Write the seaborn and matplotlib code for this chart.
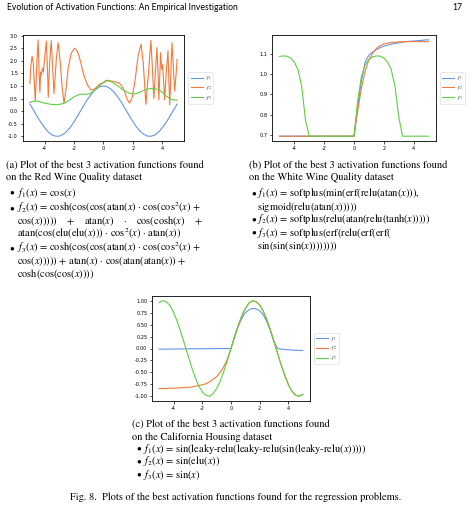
import matplotlib
matplotlib.use("Agg")
import matplotlib.pyplot as plt
import pandas as pd
import seaborn as sns

# ---------------- data ----------------
x_grid = [-5.0, -4.75, -4.5, -4.25, -4.0, -3.75, -3.5, -3.25, -3.0, -2.75, -2.5,
          -2.25, -2.0, -1.75, -1.5, -1.25, -1.0, -0.75, -0.5, -0.25, 0.0,
          0.25, 0.5, 0.75, 1.0, 1.25, 1.5, 1.75, 2.0, 2.25, 2.5,
          2.75, 3.0, 3.25, 3.5, 3.75, 4.0, 4.25, 4.5, 4.75, 5.0]

# (a) Red Wine Quality
a_f1 = [0.28, 0.04, -0.21, -0.45, -0.65, -0.82, -0.94, -0.99, -0.99, -0.92, -0.80,
        -0.63, -0.42, -0.18, 0.07, 0.32, 0.54, 0.73, 0.88, 0.97, 1.00,
        0.97, 0.88, 0.73, 0.54, 0.32, 0.07, -0.18, -0.42, -0.63, -0.80,
        -0.92, -0.99, -0.99, -0.94, -0.82, -0.65, -0.45, -0.21, 0.04, 0.28]
a_f2_x = [-5.0, -4.93, -4.85, -4.77, -4.63, -4.52, -4.44, -4.37, -4.32, -4.27, -4.22,
          -4.15, -4.08, -3.98, -3.88, -3.80, -3.75, -3.65, -3.55, -3.45, -3.36,
          -3.20, -3.08, -2.95, -2.80, -2.68, -2.55, -2.40, -2.20, -1.95, -1.75,
          -1.55, -1.35, -1.10, -0.85, -0.60, -0.30, 0.0, 0.2, 0.5, 0.8,
          1.05, 1.25, 1.45, 1.62, 1.77, 1.95, 2.15, 2.35, 2.55, 2.70,
          2.88, 3.05, 3.22, 3.33, 3.42, 3.52, 3.63, 3.70, 3.76, 3.82,
          3.88, 3.95, 4.02, 4.08, 4.15, 4.27, 4.38, 4.44, 4.50, 4.58,
          4.65, 4.73, 4.83, 4.92, 5.0]
a_f2 = [1.10, 1.80, 2.18, 1.90, 0.40, 2.00, 2.83, 1.50, 0.75, 1.55, 1.45,
        1.70, 1.55, 2.20, 2.78, 1.60, 0.55, 2.00, 2.80, 1.70, 0.70,
        2.10, 2.72, 2.00, 0.90, 0.32, 0.85, 1.70, 2.30, 2.50, 2.35,
        1.95, 1.45, 1.05, 0.84, 0.88, 1.05, 1.15, 1.23, 1.20, 1.16,
        1.12, 1.00, 0.75, 0.45, 0.32, 0.55, 1.25, 2.20, 2.65, 1.90,
        0.27, 1.50, 2.80, 1.60, 0.50, 1.50, 2.52, 1.50, 0.45, 1.40,
        2.32, 1.65, 1.85, 1.20, 0.45, 1.60, 2.40, 1.20, 0.25, 1.60,
        2.72, 1.90, 0.80, 1.40, 2.05]
a_f3 = [0.35, 0.40, 0.40, 0.36, 0.32, 0.29, 0.27, 0.26, 0.27, 0.30, 0.37,
        0.47, 0.57, 0.64, 0.68, 0.67, 0.68, 0.76, 0.88, 1.02, 1.13,
        1.21, 1.18, 1.09, 0.99, 0.88, 0.79, 0.72, 0.69, 0.70, 0.76,
        0.83, 0.88, 0.90, 0.89, 0.85, 0.75, 0.60, 0.50, 0.45, 0.44]

# (b) White Wine Quality
b_f1 = [0.693] * 21 + [0.838, 0.967, 1.061, 1.094, 1.110, 1.122, 1.131, 1.138, 1.144, 1.148,
                       1.152, 1.155, 1.158, 1.161, 1.163, 1.164, 1.166, 1.167, 1.169, 1.170]
b_f2 = [0.693] * 21 + [0.820, 0.933, 1.016, 1.071, 1.105, 1.127, 1.141, 1.149, 1.154, 1.157,
                       1.158, 1.160, 1.160, 1.161, 1.161, 1.161, 1.161, 1.161, 1.161, 1.161]
b_f3 = [1.088, 1.090, 1.089, 1.080, 1.060, 1.020, 0.935, 0.770,
        0.693, 0.693, 0.693, 0.693, 0.693, 0.693, 0.693, 0.693, 0.693, 0.693, 0.693, 0.693, 0.693,
        0.870, 0.990, 1.047, 1.073, 1.086, 1.090, 1.089, 1.080, 1.060, 1.022, 0.940, 0.790,
        0.693, 0.693, 0.693, 0.693, 0.693, 0.693, 0.693, 0.693]

# (c) California Housing
c_f1 = [-0.015, -0.014, -0.013, -0.012, -0.011, -0.010, -0.009, -0.008, -0.007, -0.006,
        -0.005, -0.005, -0.004, -0.004, -0.003, -0.003, -0.002, -0.002, -0.001, -0.001, 0.0,
        0.24, 0.46, 0.63, 0.75, 0.81, 0.84, 0.83, 0.79, 0.70, 0.56, 0.37, 0.14,
        -0.005, -0.012, -0.020, -0.027, -0.033, -0.037, -0.040, -0.042]
c_f2 = [-0.84, -0.84, -0.84, -0.83, -0.83, -0.83, -0.82, -0.82, -0.81, -0.81,
        -0.79, -0.78, -0.76, -0.74, -0.70, -0.65, -0.59, -0.50, -0.38, -0.22, 0.0,
        0.25, 0.48, 0.68, 0.84, 0.95, 1.00, 0.98, 0.91, 0.78, 0.60, 0.38, 0.14,
        -0.11, -0.35, -0.57, -0.76, -0.90, -0.98, -1.00, -0.96]
c_f3 = [0.96, 1.00, 0.98, 0.90, 0.76, 0.57, 0.35, 0.11, -0.14, -0.38, -0.60,
        -0.78, -0.91, -0.98, -1.00, -0.95, -0.84, -0.68, -0.48, -0.25, 0.0,
        0.25, 0.48, 0.68, 0.84, 0.95, 1.00, 0.98, 0.91, 0.78, 0.60,
        0.38, 0.14, -0.11, -0.35, -0.57, -0.76, -0.90, -0.98, -1.00, -0.96]

series_labels = ["$f_1$", "$f_2$", "$f_3$"]
colors = ["#6495ed", "#f4793b", "#5ecf43"]

# ---------------- text ----------------
header_left = "Evolution of Activation Functions: An Empirical Investigation"
header_right = "17"
cap_a = ["(a) Plot of the best 3 activation functions found",
         "on the Red Wine Quality dataset"]
cap_b = ["(b) Plot of the best 3 activation functions found",
         "on the White Wine Quality dataset"]
cap_c = ["(c) Plot of the best 3 activation functions found",
         "on the California Housing dataset"]
items_a = [["$f_1$($x$) = cos($x$)"],
           ["$f_2$($x$) = cosh(cos(cos(atan($x$) \u00b7 cos(cos$^2$($x$) +",
            "cos($x$)))))    +    atan($x$)    \u00b7    cos(cosh($x$)    +",
            "atan(cos(elu(elu($x$))) \u00b7 cos$^2$($x$) \u00b7 atan($x$))"],
           ["$f_3$($x$) = cosh(cos(cos(atan($x$) \u00b7 cos(cos$^2$($x$) +",
            "cos($x$))))) + atan($x$) \u00b7 cos(atan(atan($x$)) +",
            "cosh(cos(cos($x$))))"]]
items_b = [["$f_1$($x$) = softplus(min(erf(relu(atan($x$))),",
            "sigmoid(relu(atan($x$)))))"],
           ["$f_2$($x$) = softplus(relu(atan(relu(tanh($x$)))))"],
           ["$f_3$($x$) = softplus(erf(relu(erf(erf(",
            "sin(sin(sin($x$))))))))"]]
items_c = [["$f_1$($x$) = sin(leaky-relu(leaky-relu(sin(leaky-relu($x$)))))"],
           ["$f_2$($x$) = sin(elu($x$))"],
           ["$f_3$($x$) = sin($x$)"]]
fig_caption = "Fig. 8.  Plots of the best activation functions found for the regression problems."

# ---------------- figure ----------------
plt.rcParams["mathtext.fontset"] = "stix"
plt.rcParams["font.family"] = ["DejaVu Sans"]
plt.rcParams["axes.unicode_minus"] = False
W, H = 474, 516
fig = plt.figure(figsize=(W / 100, H / 100), dpi=100)


def rect(l, t, r, b):
    return [l / W, 1 - b / H, (r - l) / W, (b - t) / H]


def draw(ax, xs, ys_list, yticks, fmt):
    for xv, yv, lab, col in zip(xs, ys_list, series_labels, colors):
        df = pd.DataFrame({"x": xv, "y": yv})
        sns.lineplot(data=df, x="x", y="y", ax=ax, color=col, linewidth=0.8,
                     label=lab, sort=False, estimator=None)
    ax.set_xlabel("")
    ax.set_ylabel("")
    ax.set_xticks([-4, -2, 0, 2, 4])
    ax.set_yticks(yticks)
    ax.set_yticklabels([fmt.format(v) for v in yticks])
    ax.tick_params(labelsize=3.6, length=1.8, width=0.5, pad=1.5)
    for s in ax.spines.values():
        s.set_linewidth(0.6)
    leg = ax.legend(loc="center left", bbox_to_anchor=(1.01, 0.5), fontsize=3.4,
                    handlelength=2.6, handletextpad=0.6, borderpad=0.45,
                    labelspacing=0.35, frameon=True, fancybox=True)
    leg.get_frame().set_linewidth(0.4)


ax_a = fig.add_axes(rect(22.5, 35, 184.5, 141))
draw(ax_a, [x_grid, a_f2_x, x_grid], [a_f1, a_f2, a_f3],
     [-1.0, -0.5, 0.0, 0.5, 1.0, 1.5, 2.0, 2.5, 3.0], "{:.1f}")
ax_b = fig.add_axes(rect(272, 35, 436, 141))
draw(ax_b, [x_grid, x_grid, x_grid], [b_f1, b_f2, b_f3],
     [0.7, 0.8, 0.9, 1.0, 1.1], "{:.1f}")
ax_c = fig.add_axes(rect(152, 296, 310, 401))
draw(ax_c, [x_grid, x_grid, x_grid], [c_f1, c_f2, c_f3],
     [-1.0, -0.75, -0.5, -0.25, 0.0, 0.25, 0.5, 0.75, 1.0], "{:.2f}")

SERIF = "STIXGeneral"
FS = 7.5


def txt(x, y, s, ha="left", fs=FS, family=SERIF):
    fig.text(x / W, 1 - y / H, s, ha=ha, va="center", fontsize=fs, family=family)


txt(7, 8, header_left, fs=6.2, family="Lato")
txt(462, 8, header_right, ha="right", fs=6.2, family="Lato")


def block(x0, xb, xt, y_cap, y_items, cap, items):
    for y, s in zip(y_cap, cap):
        txt(x0, y, s)
    k = 0
    for item in items:
        for j, s in enumerate(item):
            y = y_items[k]
            if j == 0:
                txt(xb, y, "\u2022", fs=6.5)
            txt(xt, y, s)
            k += 1


block(6, 9, 17, [165, 178], [193, 208, 221, 234, 248, 261, 274], cap_a, items_a)
block(249, 251, 257, [165, 178], [193.5, 206.5, 219.5, 233, 246.5], cap_b, items_b)
block(132, 136, 143, [424.5, 437], [448.5, 461.5, 474.5], cap_c, items_c)
txt(236, 497, fig_caption, ha="center")

fig.savefig("out.png", dpi=100)
